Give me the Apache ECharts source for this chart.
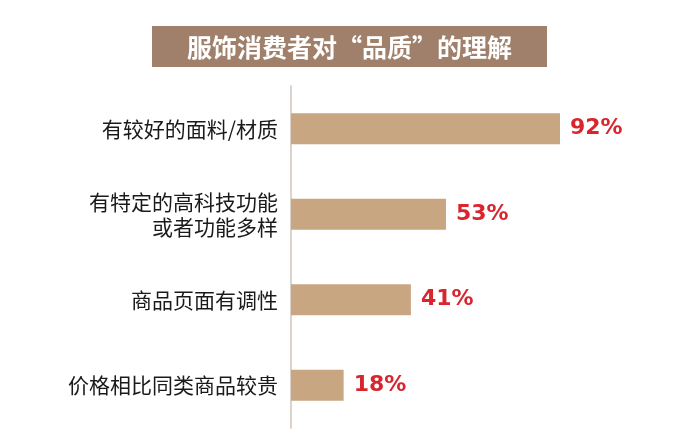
<!DOCTYPE html>
<html><head><meta charset="utf-8">
<script src="https://cdn.jsdelivr.net/npm/echarts@6/dist/echarts.min.js"></script>
<style>html,body{margin:0;padding:0;background:#fff}#c{width:687px;height:436px}</style>
</head><body><div id="c"></div>
<script>
const titleText = '服饰消费者对“品质”的理解';
const categories = ['有较好的面料/材质', '有特定的高科技功能\n或者功能多样', '商品页面有调性', '价格相比同类商品较贵'];
const values = [92, 53, 41, 18];

const chart = echarts.init(document.getElementById('c'));
chart.setOption({
  backgroundColor: '#fff',
  title: {
    text: titleText,
    left: 152, top: 26,
    padding: [8, 35, 7, 35],
    backgroundColor: '#a0806a',
    textStyle: { color: '#fff', fontSize: 25, fontWeight: 'bold', fontFamily: 'Noto Sans CJK SC', lineHeight: 26 }
  },
  grid: { left: 291, top: 86, width: 292.4, height: 342 },
  xAxis: { type: 'value', min: 0, max: 100, show: false },
  yAxis: {
    type: 'category', data: categories, inverse: true,
    axisLine: { show: true, lineStyle: { color: '#dcd4cc', width: 2 } },
    axisTick: { show: false },
    axisLabel: { color: '#1a1a1a', fontSize: 21, fontFamily: 'Noto Sans CJK SC', margin: 13, lineHeight: 25, align: 'right' }
  },
  series: [{
    type: 'bar', data: values, barWidth: 31,
    itemStyle: { color: '#c8a681' },
    label: { show: true, position: 'right', distance: 10, formatter: '{c}%', color: '#d9252e', fontSize: 22, fontWeight: 'bold', fontFamily: 'DejaVu Sans' }
  }]
});
</script></body></html>
